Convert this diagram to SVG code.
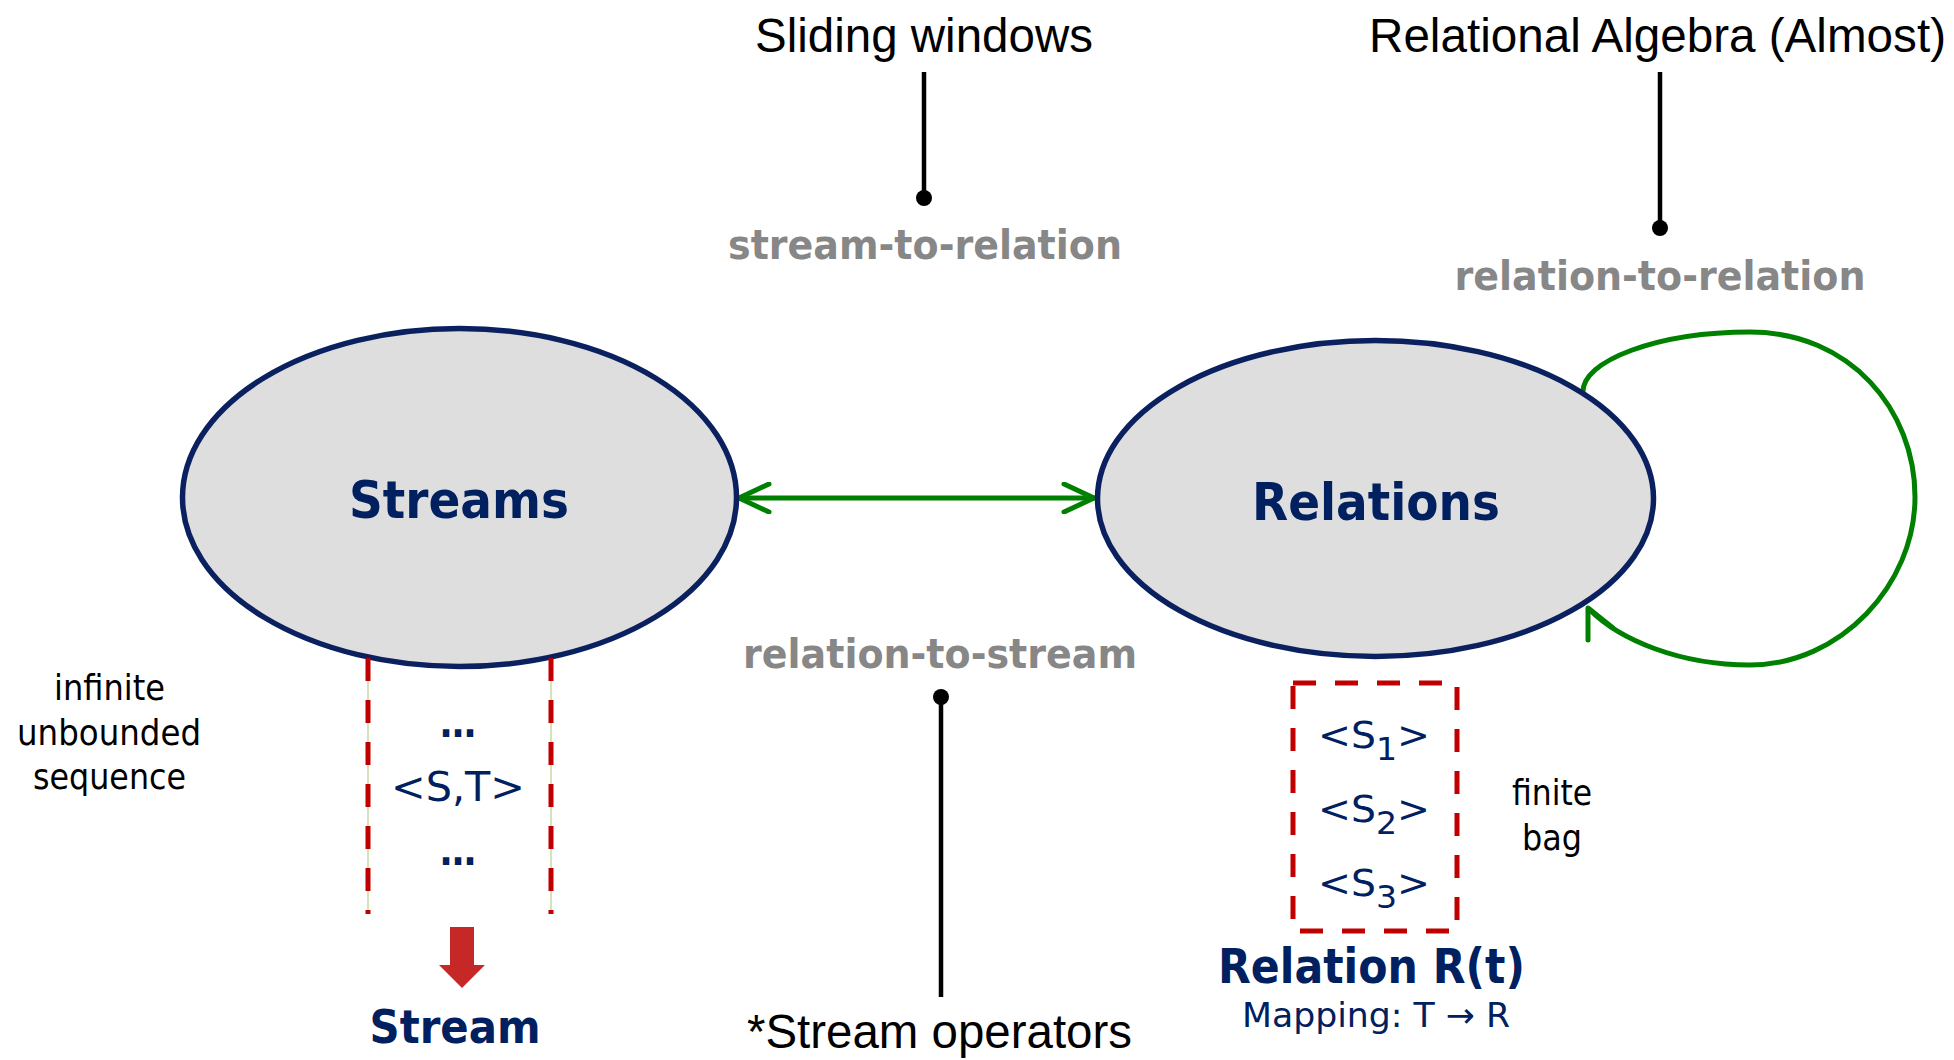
<svg xmlns="http://www.w3.org/2000/svg" width="1954" height="1060" viewBox="0 0 1954 1060">
<style>
.node-ell{fill:#dedede;stroke:#0b215f;stroke-width:5.5}
.title{font-family:"DejaVu Sans",Verdana,sans-serif;font-weight:bold;fill:#002060;text-anchor:middle}
.gray{font-family:"DejaVu Sans",Verdana,sans-serif;font-weight:bold;fill:#878787;text-anchor:middle;font-size:40px}
.arial{font-family:"Liberation Sans",Arial,sans-serif;fill:#000;text-anchor:middle;font-size:48px}
.note{font-family:"DejaVu Sans",Verdana,sans-serif;fill:#000;text-anchor:middle;font-size:36px}
.navy{font-family:"DejaVu Sans",Verdana,sans-serif;fill:#002060;text-anchor:middle}
.callout{stroke:#000;stroke-width:4.5;fill:none}
.dot{fill:#000}
.green{stroke:#008000;stroke-width:5;fill:none;stroke-linecap:round;stroke-linejoin:round}
.reddash{stroke:#c00000;stroke-width:5;fill:none;stroke-dasharray:23 19}
.thin{stroke:#c8d9a6;stroke-width:1.5}
</style>
<defs>
<marker id="chev" markerUnits="userSpaceOnUse" viewBox="0 0 36 32" refX="33" refY="16" markerWidth="36" markerHeight="32" orient="auto-start-reverse">
<path d="M3,2 L33,16 L3,30" fill="none" stroke="#008000" stroke-width="5" stroke-linecap="round" stroke-linejoin="round"/>
</marker>
</defs>

<g id="connectors">
<line class="green" x1="739" y1="498" x2="1094" y2="498" marker-start="url(#chev)" marker-end="url(#chev)"/>
<path class="green" d="M1583,394 C1580,360 1660,332 1750,332 C1850,332 1915,410 1915,497 C1915,585 1840,665 1750,665 C1680,665 1620,640 1590,610"/>
<path class="green" d="M1588,640 L1588,608 L1613,628"/>
</g>

<g id="node-streams">
<ellipse class="node-ell" cx="459.5" cy="497.5" rx="277" ry="169"/>
<text class="title" x="459" y="518" font-size="51" textLength="220" lengthAdjust="spacingAndGlyphs">Streams</text>
</g>

<g id="node-relations">
<ellipse class="node-ell" cx="1375.5" cy="498.5" rx="278" ry="158"/>
<text class="title" x="1376" y="520" font-size="52" textLength="248" lengthAdjust="spacingAndGlyphs">Relations</text>
</g>

<g id="label-sliding">
<text class="arial" x="924" y="52" textLength="338" lengthAdjust="spacingAndGlyphs">Sliding windows</text>
<line class="callout" x1="924" y1="72" x2="924" y2="197"/>
<circle class="dot" cx="924" cy="198" r="8"/>
<text class="gray" x="925" y="259" textLength="394" lengthAdjust="spacingAndGlyphs">stream-to-relation</text>
</g>

<g id="label-relalg">
<text class="arial" x="1657.5" y="52" textLength="577" lengthAdjust="spacingAndGlyphs">Relational Algebra (Almost)</text>
<line class="callout" x1="1660" y1="72" x2="1660" y2="227"/>
<circle class="dot" cx="1660" cy="228" r="8"/>
<text class="gray" x="1660" y="290" textLength="411" lengthAdjust="spacingAndGlyphs">relation-to-relation</text>
</g>

<g id="label-r2s">
<text class="gray" x="940" y="668" textLength="394" lengthAdjust="spacingAndGlyphs">relation-to-stream</text>
<circle class="dot" cx="941" cy="697" r="8"/>
<line class="callout" x1="941" y1="697" x2="941" y2="997"/>
<text class="arial" x="939.5" y="1048" textLength="385" lengthAdjust="spacingAndGlyphs">*Stream operators</text>
</g>

<g id="stream-detail">
<text class="note" x="109.5" y="700" textLength="111" lengthAdjust="spacingAndGlyphs">infinite</text>
<text class="note" x="109" y="745" textLength="184" lengthAdjust="spacingAndGlyphs">unbounded</text>
<text class="note" x="109.5" y="789" textLength="153" lengthAdjust="spacingAndGlyphs">sequence</text>
<line class="thin" x1="368" y1="660" x2="368" y2="913"/>
<line class="thin" x1="551" y1="660" x2="551" y2="913"/>
<line class="reddash" x1="368" y1="658" x2="368" y2="914"/>
<line class="reddash" x1="551" y1="658" x2="551" y2="914"/>
<text class="navy" x="458" y="737" font-size="40" font-weight="bold" textLength="36" lengthAdjust="spacingAndGlyphs">…</text>
<text class="navy" x="458" y="801" font-size="40" textLength="134" lengthAdjust="spacingAndGlyphs">&lt;S,T&gt;</text>
<text class="navy" x="458" y="865" font-size="40" font-weight="bold" textLength="36" lengthAdjust="spacingAndGlyphs">…</text>
<polygon points="450,927 474,927 474,965 485,965 462,988 439,965 450,965" fill="#c62828"/>
<text class="title" x="455" y="1043" font-size="47" textLength="171" lengthAdjust="spacingAndGlyphs">Stream</text>
</g>

<g id="relation-detail">
<rect class="reddash" x="1293" y="683" width="164" height="248"/>
<text class="navy" x="1374" y="748" font-size="38" textLength="112" lengthAdjust="spacingAndGlyphs">&lt;S<tspan font-size="32" dy="12">1</tspan><tspan dy="-12">&gt;</tspan></text>
<text class="navy" x="1374" y="822" font-size="38" textLength="112" lengthAdjust="spacingAndGlyphs">&lt;S<tspan font-size="32" dy="12">2</tspan><tspan dy="-12">&gt;</tspan></text>
<text class="navy" x="1374" y="896" font-size="38" textLength="112" lengthAdjust="spacingAndGlyphs">&lt;S<tspan font-size="32" dy="12">3</tspan><tspan dy="-12">&gt;</tspan></text>
<text class="note" x="1552" y="805" textLength="80" lengthAdjust="spacingAndGlyphs">finite</text>
<text class="note" x="1552" y="850" textLength="60" lengthAdjust="spacingAndGlyphs">bag</text>
<text class="title" x="1371.5" y="983" font-size="48" textLength="307" lengthAdjust="spacingAndGlyphs">Relation R(t)</text>
<text class="navy" x="1376" y="1027" font-size="34" textLength="268" lengthAdjust="spacingAndGlyphs">Mapping: T → R</text>
</g>
</svg>
